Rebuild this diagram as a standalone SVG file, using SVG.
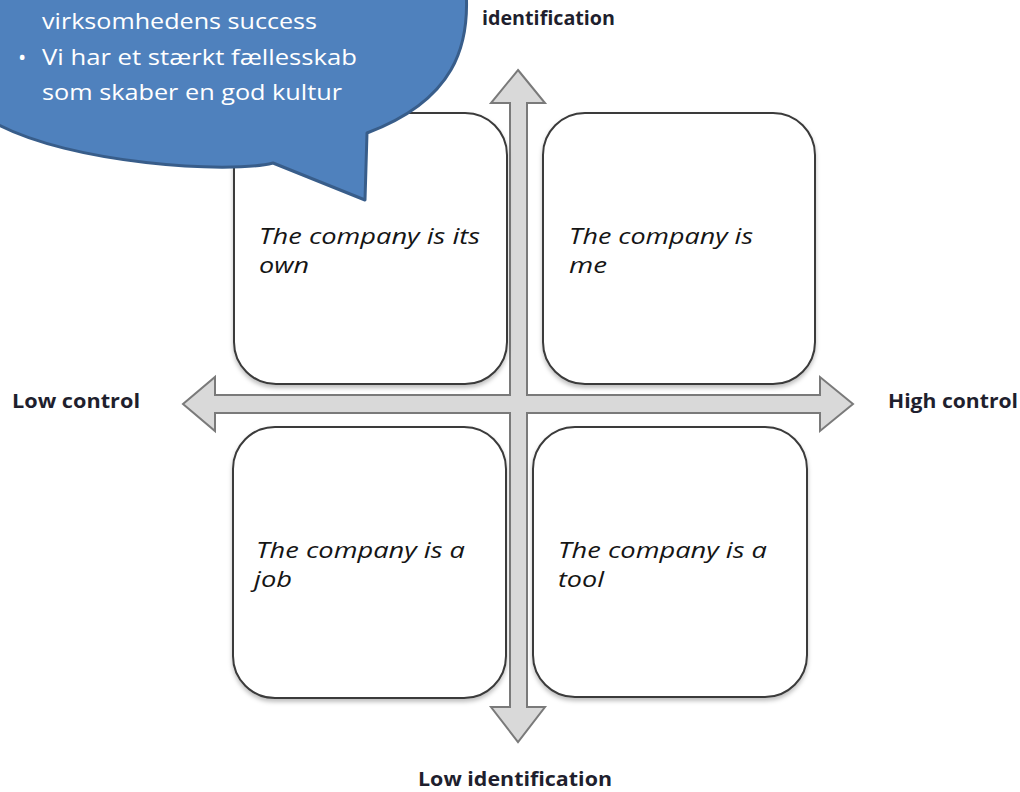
<svg xmlns="http://www.w3.org/2000/svg" width="1020" height="792" viewBox="0 0 1020 792">
  <defs>
    <filter id="sh" x="-10%" y="-10%" width="120%" height="120%">
      <feDropShadow dx="0" dy="3" stdDeviation="2" flood-color="#000" flood-opacity="0.25"/>
    </filter>
    <style>
      .box { fill: #ffffff; stroke: #3a3a3a; stroke-width: 2; }
      .btxt { font-family: "Open Sans", "Liberation Sans", sans-serif; font-style: italic; font-size: 21px; fill: #151515; }
      .axis { font-family: "Open Sans", "Liberation Sans", sans-serif; font-weight: bold; font-size: 20px; fill: #1f1f2e; }
      .arrow { fill: #d9d9d9; stroke: #7a7a7a; stroke-width: 2; stroke-linejoin: miter; }
      .bubble { fill: #4f81bd; stroke: #385d8a; stroke-width: 3; stroke-linejoin: round; }
      .wtxt { font-family: "Open Sans", "Liberation Sans", sans-serif; font-size: 22px; fill: #ffffff; }
    </style>
  </defs>
  <rect width="1020" height="792" fill="#ffffff"/>

  <g id="connectors">
    <path class="arrow" d="M518,70 L545,103 L527,103 L527,395 L820,395 L820,377 L853,404 L820,431 L820,413 L527,413 L527,707 L545,707 L518,742 L491,707 L510,707 L510,413 L215,413 L215,431 L183,404 L215,377 L215,395 L510,395 L510,103 L491,103 Z"/>
  </g>

  <g id="node-own">
    <rect class="box" x="234" y="113" width="273" height="271" rx="42" filter="url(#sh)"/>
    <text class="btxt" x="259" y="244" textLength="221" lengthAdjust="spacingAndGlyphs">The company is its</text>
    <text class="btxt" x="259" y="273" textLength="50" lengthAdjust="spacingAndGlyphs">own</text>
  </g>
  <g id="node-me">
    <rect class="box" x="543" y="113" width="272" height="271" rx="42" filter="url(#sh)"/>
    <text class="btxt" x="569" y="244" textLength="184" lengthAdjust="spacingAndGlyphs">The company is</text>
    <text class="btxt" x="569" y="273" textLength="38" lengthAdjust="spacingAndGlyphs">me</text>
  </g>
  <g id="node-job">
    <rect class="box" x="233" y="427" width="273" height="271" rx="42" filter="url(#sh)"/>
    <text class="btxt" x="256" y="558" textLength="209" lengthAdjust="spacingAndGlyphs">The company is a</text>
    <text class="btxt" x="254" y="587" textLength="38" lengthAdjust="spacingAndGlyphs">job</text>
  </g>
  <g id="node-tool">
    <rect class="box" x="533" y="427" width="274" height="270" rx="42" filter="url(#sh)"/>
    <text class="btxt" x="558" y="558" textLength="209" lengthAdjust="spacingAndGlyphs">The company is a</text>
    <text class="btxt" x="558" y="587" textLength="46" lengthAdjust="spacingAndGlyphs">tool</text>
  </g>

  <g id="labels">
    <text class="axis" x="12" y="408" textLength="128" lengthAdjust="spacingAndGlyphs">Low control</text>
    <text class="axis" x="888" y="408" textLength="130" lengthAdjust="spacingAndGlyphs">High control</text>
    <text class="axis" x="482" y="25" textLength="133" lengthAdjust="spacingAndGlyphs">identification</text>
    <text class="axis" x="418" y="786" textLength="194" lengthAdjust="spacingAndGlyphs">Low identification</text>
  </g>

  <g id="callout">
    <path class="bubble" d="M466,-10 C470,45 455,100 367,133 L365,200 L273,163 C230,174 70,164 -5,123 L-5,-10 Z"/>
    <text class="wtxt" x="42" y="29" textLength="275" lengthAdjust="spacingAndGlyphs">virksomhedens success</text>
    <text class="wtxt" x="18" y="65" font-size="26">•</text>
    <text class="wtxt" x="42" y="65" textLength="315" lengthAdjust="spacingAndGlyphs">Vi har et stærkt fællesskab</text>
    <text class="wtxt" x="42" y="100" textLength="300" lengthAdjust="spacingAndGlyphs">som skaber en god kultur</text>
  </g>
</svg>
